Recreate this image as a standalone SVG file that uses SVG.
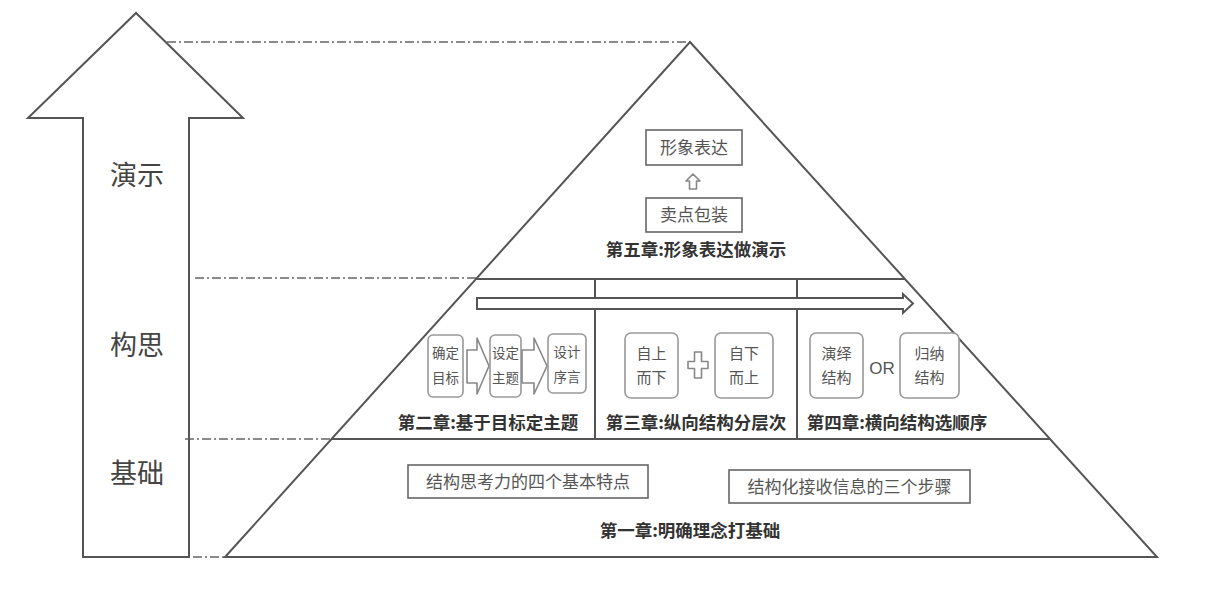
<svg xmlns="http://www.w3.org/2000/svg" width="1224" height="608" viewBox="0 0 1224 608">
<style>
  .ln{fill:none;stroke:#555;stroke-width:2}
  .dd{fill:none;stroke:#666;stroke-width:1.6;stroke-dasharray:9 3 2 3}
  .box{fill:#fff;stroke:#666;stroke-width:1.6}
  .rbox{fill:#fff;stroke:#999;stroke-width:1.6}
  .hol{fill:#fff;stroke:#888;stroke-width:1.6;stroke-linejoin:round}
  .t{font-family:"Noto Sans CJK SC","Liberation Sans",sans-serif;fill:#555;text-anchor:middle}
  .ch{font-family:"Noto Sans CJK SC","Liberation Sans",sans-serif;fill:#333;font-weight:bold;font-size:17.5px;text-anchor:middle}
  .side{font-family:"Noto Sans CJK SC","Liberation Sans",sans-serif;fill:#444;font-size:27px;text-anchor:middle}
</style>
<rect width="1224" height="608" fill="#fff"/>

<g id="connectors">
  <line class="dd" x1="167" y1="42" x2="690" y2="42"/>
  <line class="dd" x1="195" y1="278" x2="477" y2="278"/>
  <line class="dd" x1="185" y1="439" x2="331" y2="439"/>
  <line class="dd" x1="193" y1="557" x2="225" y2="557"/>
</g>

<g id="side-arrow">
  <path class="ln" d="M83,557 L83,118 L28,118 L136,13 L243,118 L189,118 L189,557 Z"/>
  <text class="side" x="137" y="185">演示</text>
  <text class="side" x="137" y="355">构思</text>
  <text class="side" x="137" y="483">基础</text>
</g>

<g id="pyramid">
  <path class="ln" d="M690,42 L1157,557 L225,557 Z"/>
  <line class="ln" x1="476" y1="279" x2="905" y2="279"/>
  <line class="ln" x1="331" y1="439" x2="1050" y2="439"/>
  <line class="ln" x1="595" y1="279" x2="595" y2="439"/>
  <line class="ln" x1="797" y1="279" x2="797" y2="439"/>
  <path d="M477,298 L903,298 L903,294 L913,303.5 L903,313 L903,309 L477,309 Z" fill="#fff" stroke="#555" stroke-width="2" stroke-linejoin="miter"/>
</g>

<g id="chapter5">
  <rect class="box" x="646" y="130" width="96" height="35"/>
  <text class="t" x="694" y="154" font-size="17">形象表达</text>
  <path class="hol" d="M693,174 L700,181 L696.5,181 L696.5,189 L689.5,189 L689.5,181 L686,181 Z"/>
  <rect class="box" x="646" y="198" width="96" height="34"/>
  <text class="t" x="694" y="221" font-size="17">卖点包装</text>
  <text class="ch" x="696" y="256">第五章:形象表达做演示</text>
</g>

<g id="chapter2">
  <rect class="rbox" x="428" y="335" width="35" height="62" rx="5"/>
  <text class="t" x="445.5" y="358" font-size="13.5">确定</text>
  <text class="t" x="445.5" y="383" font-size="13.5">目标</text>
  <path class="hol" d="M467,350 L477,350 L477,338 L489,366 L477,394 L477,383 L467,383 Z"/>
  <rect class="rbox" x="490" y="335" width="31" height="62" rx="5"/>
  <text class="t" x="505.5" y="358" font-size="13.5">设定</text>
  <text class="t" x="505.5" y="383" font-size="13.5">主题</text>
  <path class="hol" d="M522,350 L534,350 L534,338 L547,366 L534,394 L534,383 L522,383 Z"/>
  <rect class="rbox" x="548" y="334" width="38" height="59" rx="5"/>
  <text class="t" x="567" y="357" font-size="13.5">设计</text>
  <text class="t" x="567" y="382" font-size="13.5">序言</text>
  <text class="ch" x="488" y="429">第二章:基于目标定主题</text>
</g>

<g id="chapter3">
  <rect class="rbox" x="625" y="333" width="53" height="65" rx="6"/>
  <text class="t" x="651.5" y="359" font-size="15">自上</text>
  <text class="t" x="651.5" y="383" font-size="15">而下</text>
  <path class="hol" d="M694.5,352 L701.5,352 L701.5,361.5 L708,361.5 L708,368.5 L701.5,368.5 L701.5,378 L694.5,378 L694.5,368.5 L688,368.5 L688,361.5 L694.5,361.5 Z"/>
  <rect class="rbox" x="715" y="333" width="58" height="65" rx="6"/>
  <text class="t" x="744" y="359" font-size="15">自下</text>
  <text class="t" x="744" y="383" font-size="15">而上</text>
  <text class="ch" x="696" y="429">第三章:纵向结构分层次</text>
</g>

<g id="chapter4">
  <rect class="rbox" x="810" y="333" width="53" height="65" rx="6"/>
  <text class="t" x="836.5" y="359" font-size="15">演绎</text>
  <text class="t" x="836.5" y="383" font-size="15">结构</text>
  <text x="882" y="374" font-family="'Liberation Sans',sans-serif" font-size="17" fill="#555" text-anchor="middle">OR</text>
  <rect class="rbox" x="900" y="333" width="59" height="65" rx="6"/>
  <text class="t" x="929.5" y="359" font-size="15">归纳</text>
  <text class="t" x="929.5" y="383" font-size="15">结构</text>
  <text class="ch" x="897" y="429">第四章:横向结构选顺序</text>
</g>

<g id="chapter1">
  <rect class="box" x="408" y="465" width="240" height="33"/>
  <text class="t" x="528" y="488" font-size="17">结构思考力的四个基本特点</text>
  <rect class="box" x="729" y="470" width="241" height="33"/>
  <text class="t" x="849.5" y="493" font-size="17">结构化接收信息的三个步骤</text>
  <text class="ch" x="690" y="537">第一章:明确理念打基础</text>
</g>
</svg>
